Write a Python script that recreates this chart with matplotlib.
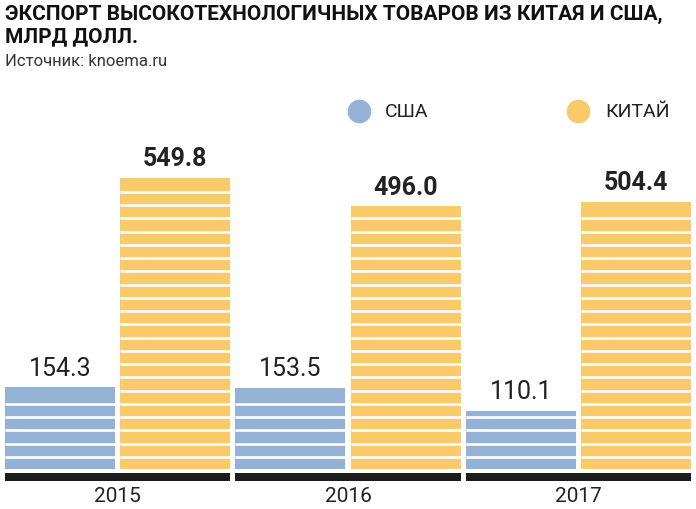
import numpy as np
import matplotlib.pyplot as plt
from matplotlib.lines import Line2D

plt.rcParams['font.family'] = ['Roboto', 'DejaVu Sans']

# Data
years = ['2015', '2016', '2017']
usa = [154.3, 153.5, 110.1]
china = [549.8, 496.0, 504.4]
series_names = ['США', 'КИТАЙ']

blue = '#93b2d6'
yellow = '#f9c96a'
dark = '#222222'

fig = plt.figure(figsize=(6.96, 5.10), dpi=100)
W, H = 696, 510

# axes in pixel layout: x 5..691, y 130..484 (from top)
ax = fig.add_axes([5 / W, (H - 484) / H, 686 / W, 354 / H])
scale = 0.53  # px per unit
ax.set_ylim(-14 / scale, 340 / scale)
bw = 110 / 115
ax.set_xlim(-bw / 2, 5 + bw / 2)
ax.axis('off')

n = len(years)
x_usa = np.arange(n) * 2
x_chn = np.arange(n) * 2 + 1

ax.bar(x_usa, usa, width=bw, color=blue)
ax.bar(x_chn, china, width=bw, color=yellow)

# white horizontal stripes inside the bars
for xs, vals in [(x_usa, usa), (x_chn, china)]:
    for x, v in zip(xs, vals):
        ys = np.arange(23, v - 9, 25)
        ax.hlines(ys, x - bw / 2, x + bw / 2, color='white', linewidth=1.9)

# black baseline under each group
for g in range(n):
    ax.bar(2 * g + 0.5, 15, bottom=-22, width=1 + bw, color='#1c1c1c')

# value labels
for x, v in zip(x_usa, usa):
    ax.text(x, v + 14, f'{v:.1f}', ha='center', va='bottom', fontsize=18,
            color=dark)
for x, v in zip(x_chn, china):
    ax.text(x, v + 14, f'{v:.1f}', ha='center', va='bottom', fontsize=18,
            fontweight='bold', color=dark)

# year labels
for g, yr in enumerate(years):
    fig.text((5 + (2 * g + 0.5) * 115.2 + 55) / W, 1 - 497 / H, yr,
             ha='center', va='center', fontsize=15, color=dark)

# title and source
fig.text(5 / W, 1 - 14 / H, 'ЭКСПОРТ ВЫСОКОТЕХНОЛОГИЧНЫХ ТОВАРОВ ИЗ КИТАЯ И США,',
         ha='left', va='center', fontsize=15, fontweight='bold', color='#111111')
fig.text(5 / W, 1 - 37 / H, 'МЛРД ДОЛЛ.',
         ha='left', va='center', fontsize=15, fontweight='bold', color='#111111')
fig.text(5 / W, 1 - 62 / H, 'Источник: knoema.ru',
         ha='left', va='center', fontsize=12, color='#333333')

# legend
for cx, tx, col, name in [(359, 385, blue, series_names[0]),
                          (578, 605, yellow, series_names[1])]:
    fig.add_artist(Line2D([cx / W], [1 - 112 / H], marker='o', markersize=16,
                          color=col, linestyle='none',
                          transform=fig.transFigure))
    fig.text(tx / W, 1 - 112 / H, name, ha='left', va='center',
             fontsize=14, color=dark)

plt.savefig('out.png', dpi=100)
